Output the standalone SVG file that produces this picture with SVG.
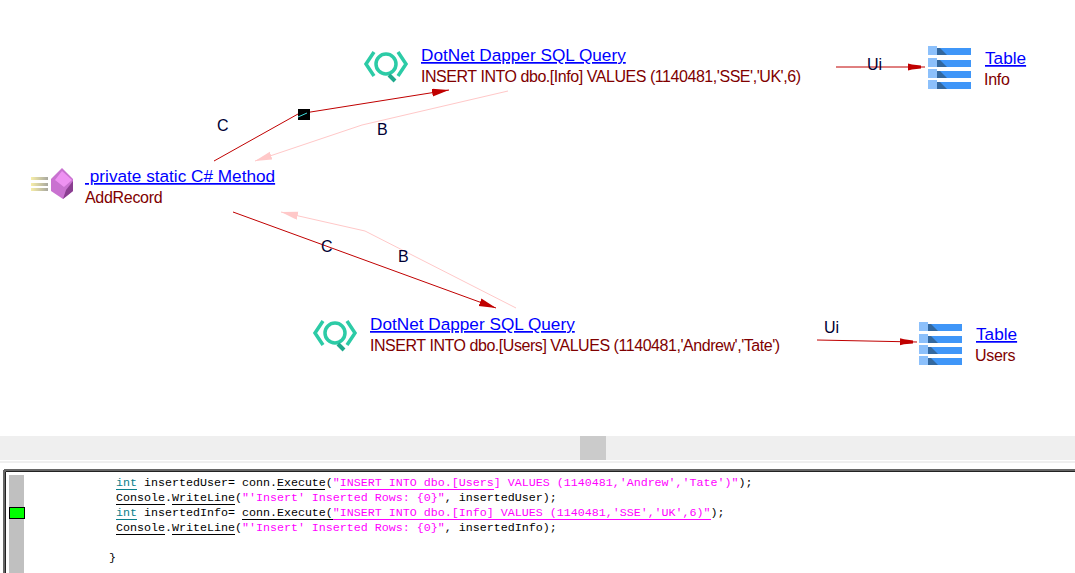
<svg xmlns="http://www.w3.org/2000/svg" width="1075" height="573" viewBox="0 0 1075 573">
<style>
text{font-family:"Liberation Sans",Arial,sans-serif;font-size:16px}
.t{fill:#0000ff;text-decoration:underline;font-size:17.2px}
.s{fill:#800000;letter-spacing:-.45px}
.n{fill:#800000;letter-spacing:-.3px}
.l{fill:#000033}
.c{font-family:"Liberation Mono","Courier New",monospace;font-size:11.67px;fill:#000;white-space:pre}
.m{fill:#ff00ff}.k{fill:#0b7f8c}
.r{fill:none;stroke:#c00000;stroke-width:1}
.p{fill:none;stroke:#ffc8c8;stroke-width:1}
.u{stroke-width:1;fill:none}
</style>
<defs>
<linearGradient id="sp"><stop offset="0" stop-color="#f7eeA8"/><stop offset="1" stop-color="#a8a8a0"/></linearGradient>
<marker id="a" markerUnits="userSpaceOnUse" markerWidth="18" markerHeight="10" refX="17" refY="4" orient="auto"><path d="M0 0L17 4L0 8z" fill="#c00000"/></marker>
<marker id="b" markerUnits="userSpaceOnUse" markerWidth="18" markerHeight="10" refX="17" refY="4" orient="auto"><path d="M0 0L17 4L0 8z" fill="#ffc8c8"/></marker>
<marker id="c" markerUnits="userSpaceOnUse" markerWidth="18" markerHeight="10" refX="17" refY="4" orient="auto"><path d="M0 .5L4 1.500L13 2.500V5.500L4 6.500L0 7.500z" fill="#c00000"/></marker>
<g id="tb"><rect x="0" y="0" width="9" height="9" fill="#8cc0fb"/><rect x="9" y="2" width="34" height="7" fill="#3f96f8"/><path d="M9 2h3l7 7h-10z" fill="#33689f"/></g>
<g id="q" fill="none" stroke="#2ccba6" stroke-width="3.500"><path d="M10 2L2 14L10 26M34 2L42 14L34 26"/><circle cx="22" cy="14" r="10"/><path d="M25 25L31 31" stroke-width="4" stroke="#1fa98c"/></g>
</defs>
<rect width="1075" height="573" fill="#fff"/>
<g id="connectors">
<path class="r" d="M214 161L298 114L449 90" marker-end="url(#a)"/>
<path class="p" d="M508 91L362 125L255 161" marker-end="url(#b)"/>
<path class="r" d="M233 212L496 308" marker-end="url(#a)"/>
<path class="p" d="M516 308L365 231L281 212" marker-end="url(#b)"/>
<path class="r" d="M836 67L925 67" marker-end="url(#c)"/>
<path class="r" d="M817 340L917 342" marker-end="url(#c)"/>
<rect x="298" y="109" width="12" height="11" fill="#000"/>
<path d="M298 117L307 113" stroke="#40e0e0"/>
<text class="l" x="217" y="131">C</text>
<text class="l" x="377" y="135">B</text>
<text class="l" x="321" y="252">C</text>
<text class="l" x="398" y="262">B</text>
<text class="l" x="867" y="70">Ui</text>
<text class="l" x="824" y="333">Ui</text>
</g>
<g id="method">
<rect x="31" y="177" width="17" height="3" fill="url(#sp)"/><rect x="31" y="183" width="17" height="3" fill="url(#sp)"/><rect x="31" y="188" width="17" height="3" fill="url(#sp)"/>
<path d="M62 168L73 179L73 191L63 199L51 191L51 179z" fill="#c972d0"/>
<path d="M62 171L72 180L64 187L55 180z" fill="#ee92f2"/>
<path d="M63 199L73 191L73 181L66 190z" fill="#8a3f90"/>
<text class="t" x="85" y="182" xml:space="preserve"> private static C# Method</text>
<text class="n" x="85" y="203">AddRecord</text>
</g>
<g id="query-info">
<use href="#q" x="364" y="50"/>
<text class="t" x="421" y="61">DotNet Dapper SQL Query</text>
<text class="s" x="421" y="82">INSERT INTO dbo.[Info] VALUES (1140481,'SSE','UK',6)</text>
</g>
<g id="query-users">
<use href="#q" x="313" y="319"/>
<text class="t" x="370" y="330">DotNet Dapper SQL Query</text>
<text class="s" x="370" y="351">INSERT INTO dbo.[Users] VALUES (1140481,'Andrew','Tate')</text>
</g>
<g id="table-info">
<use href="#tb" x="928" y="46"/><use href="#tb" x="928" y="58"/><use href="#tb" x="928" y="69"/><use href="#tb" x="928" y="80"/>
<text class="t" x="985" y="64">Table</text>
<text class="n" x="984" y="85">Info</text>
</g>
<g id="table-users">
<use href="#tb" x="919" y="322"/><use href="#tb" x="919" y="334"/><use href="#tb" x="919" y="345"/><use href="#tb" x="919" y="356"/>
<text class="t" x="976" y="340">Table</text>
<text class="n" x="975" y="361">Users</text>
</g>
<g id="code">
<rect x="0" y="436" width="1075" height="24" fill="#efefef"/>
<rect x="580" y="436" width="26" height="24" fill="#cbcbcb"/>
<path d="M0 462H1075" stroke="#e0e0e0"/>
<path d="M4 470H1075M4 470V573" stroke="#666" stroke-width="2" fill="none"/>
<path d="M5.500 471.500H1075M5.500 471.500V573" stroke="#222" fill="none"/>
<rect x="9" y="475" width="15" height="98" fill="#c0c0c0"/>
<rect x="9.500" y="507.500" width="15" height="11" fill="#00ff00" stroke="#000"/>
<text class="c" x="116" y="486"><tspan class="k">int</tspan> insertedUser= conn.Execute(<tspan class="m">"INSERT INTO dbo.[Users] VALUES (1140481,'Andrew','Tate')"</tspan>);</text>
<text class="c" x="116" y="501">Console.WriteLine(<tspan class="m">"'Insert' Inserted Rows: {0}"</tspan>, insertedUser);</text>
<text class="c" x="116" y="516"><tspan class="k">int</tspan> insertedInfo= conn.Execute(<tspan class="m">"INSERT INTO dbo.[Info] VALUES (1140481,'SSE','UK',6)"</tspan>);</text>
<text class="c" x="116" y="531">Console.WriteLine(<tspan class="m">"'Insert' Inserted Rows: {0}"</tspan>, insertedInfo);</text>
<text class="c" x="109" y="561">}</text>
<path class="u" stroke="#0b7f8c" d="M116 489.500H137M116 519.500H137"/>
<path class="u" stroke="#000" d="M277 489.500H325M116 504.500H165M172 504.500H235M116 534.500H165M172 534.500H235M242 519.500H333"/>
<path class="u" stroke="#ff00ff" d="M340 489.500H494M333 519.500H711"/>
</g>
</svg>
